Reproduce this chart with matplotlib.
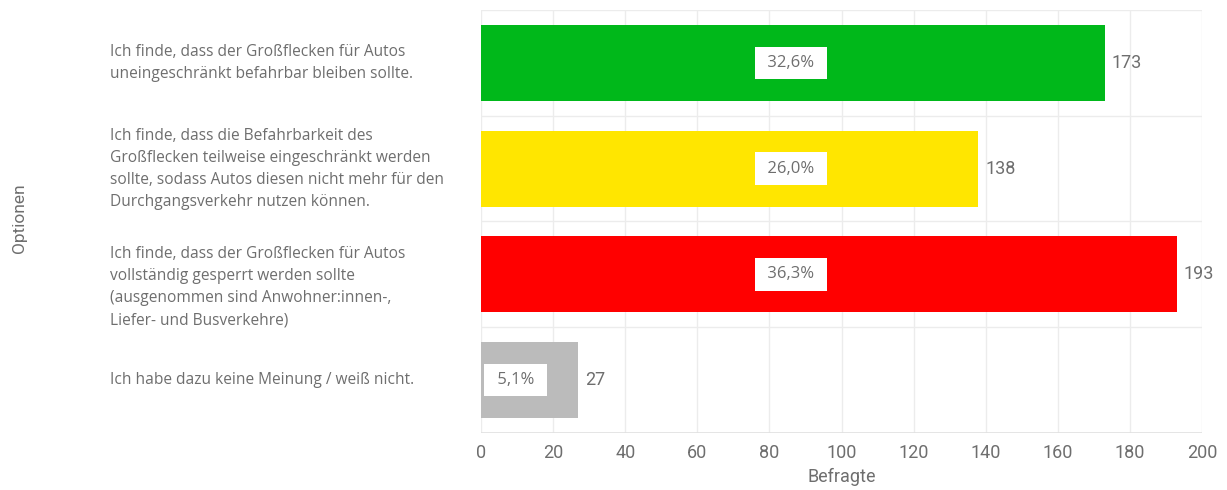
import matplotlib
matplotlib.use("Agg")
import matplotlib.pyplot as plt

# ---- data ----
categories = [
    "Ich finde, dass der Großflecken für Autos\nuneingeschränkt befahrbar bleiben sollte.",
    "Ich finde, dass die Befahrbarkeit des\nGroßflecken teilweise eingeschränkt werden\nsollte, sodass Autos diesen nicht mehr für den\nDurchgangsverkehr nutzen können.",
    "Ich finde, dass der Großflecken für Autos\nvollständig gesperrt werden sollte\n(ausgenommen sind Anwohner:innen-,\nLiefer- und Busverkehre)",
    "Ich habe dazu keine Meinung / weiß nicht.",
]
counts = [173, 138, 193, 27]
percent_labels = ["32,6%", "26,0%", "36,3%", "5,1%"]
xticks = [0, 20, 40, 60, 80, 100, 120, 140, 160, 180, 200]
xlabel = "Befragte"
ylabel = "Optionen"

# ---- style ----
colors = ["#00b81a", "#ffe600", "#ff0000", "#bbbbbb"]
txt = "#6e6e6e"
grid = "#ececec"
pct_x = [86, 86, 86, 9.6]
label_dy = [0, 0, 0.12, 0]

fig = plt.figure(figsize=(12.27, 4.90), dpi=100)
ax = fig.add_axes([481/1227, 1-433/490, (1202-481)/1227, (433-10)/490])

ypos = list(range(len(categories)))
ax.barh(ypos, counts, height=0.72, color=colors, zorder=2)
ax.set_ylim(3.5, -0.5)
ax.set_xlim(0, 200)

for y in [-0.5, 0.5, 1.5, 2.5]:
    ax.axhline(y, color=grid, lw=1, zorder=1)
for x in xticks:
    ax.axvline(x, color=grid, lw=1, zorder=1)

for s in ax.spines.values():
    s.set_visible(False)
ax.axhline(3.5, color="#e0e0e0", lw=1.2, zorder=1)

ax.set_xticks(xticks)
ax.set_xticklabels([str(t) for t in xticks], fontsize=13, color=txt, family="Roboto")
ax.tick_params(axis="x", length=0, pad=8)
ax.set_yticks([])
ax.set_xlabel(xlabel, fontsize=13, color=txt, family="Roboto", labelpad=4)

for i, (c, p) in enumerate(zip(counts, percent_labels)):
    ax.text(c + 2, i, str(c), va="center", ha="left", fontsize=13,
            color=txt, family="Roboto", zorder=4)
    ax.text(pct_x[i], i, " " + p + " ", va="center", ha="center", fontsize=12,
            color=txt, family="Open Sans", zorder=4,
            bbox=dict(boxstyle="square,pad=0.5", facecolor="white", edgecolor="none"))

# category labels left aligned
lab_x = -(481 - 110) / (1202 - 481)
for i, lab in enumerate(categories):
    ax.text(lab_x, i + label_dy[i], lab, transform=ax.get_yaxis_transform(),
            ha="left", va="center", fontsize=11.2, color=txt, family="Open Sans",
            linespacing=1.5)

fig.text(19/1227, 1-218/490, ylabel, rotation=90, ha="center", va="center",
         fontsize=12.5, color=txt, family="Roboto")

fig.savefig("out.png", dpi=100, facecolor="white")
